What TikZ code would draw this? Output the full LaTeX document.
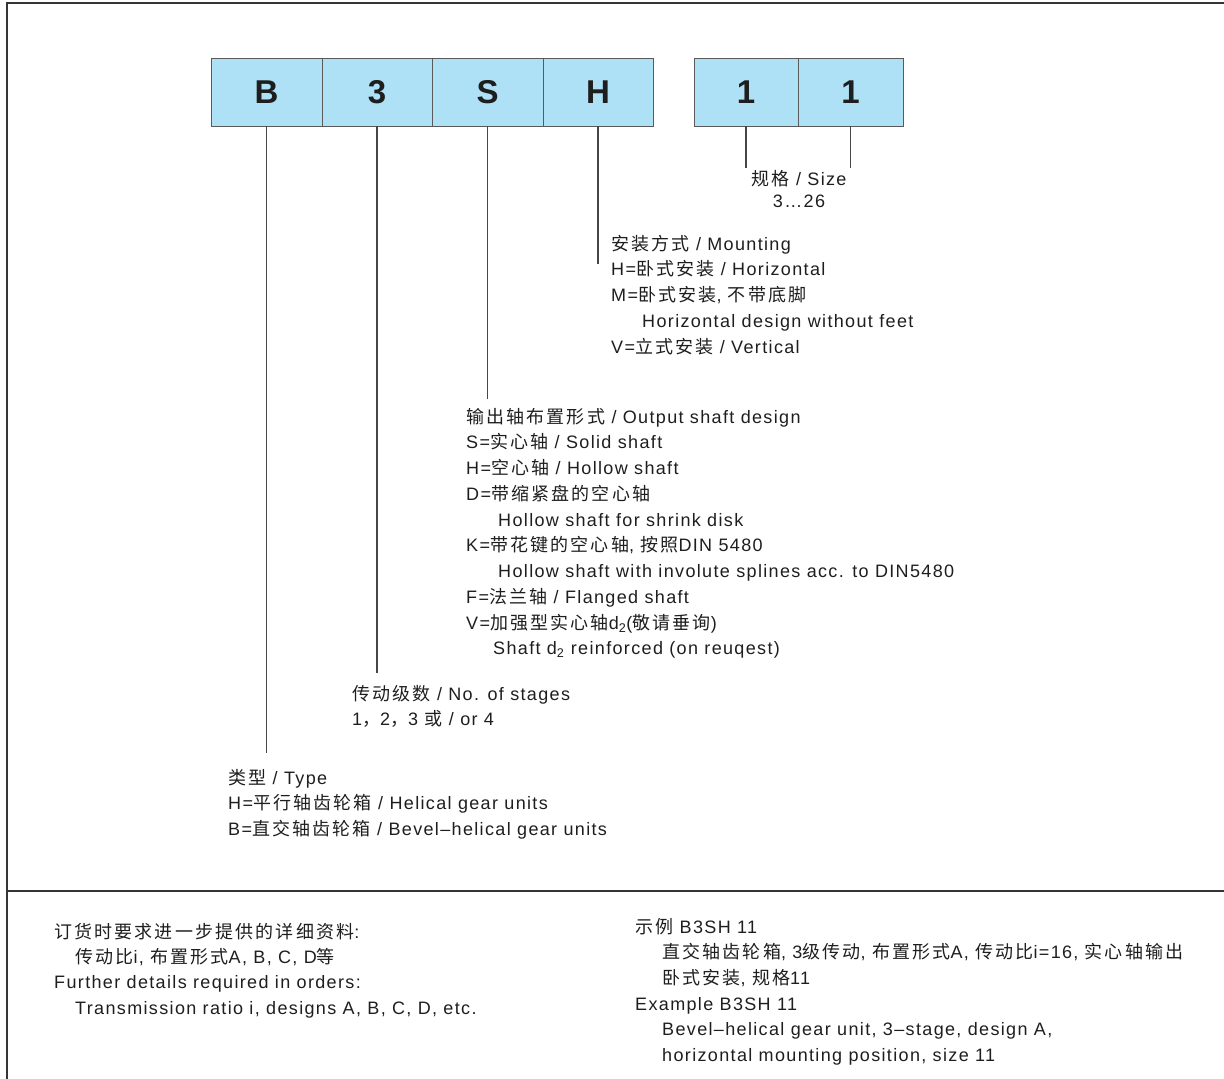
\documentclass[tikz,border=0pt]{standalone}
\usepackage{fontspec}
\setmainfont{Liberation Sans}[LetterSpace=7.5]
\newfontfamily\cjk{Noto Sans CJK SC}[LetterSpace=12]
\newcommand\zh[1]{{\cjk #1}}
\newcommand\topstrut{\rule{0pt}{20pt}}
\definecolor{boxblue}{RGB}{174,224,246}
\definecolor{boxline}{RGB}{90,90,90}
\definecolor{leadgray}{RGB}{70,70,70}
\definecolor{ink}{RGB}{30,30,30}

\begin{document}
\begin{tikzpicture}[x=1pt, y=-1pt,
  frame/.style={draw=ink!90, line width=1.6pt},
  digit/.style={draw=boxline, fill=boxblue, line width=0.9pt, minimum height=68pt,
    inner sep=0pt, text=ink, font=\fontsize{33pt}{33pt}\selectfont\bfseries},
  leader/.style={draw=leadgray, line width=1.5pt},
  block/.style={anchor=north west, inner sep=0pt, align=left, text=ink,
    font=\fontsize{18pt}{25.75pt}\selectfont}]

\useasboundingbox (0,0) rectangle (1224,1079);

% frame
\draw[frame] (7,1079) -- (7,3) -- (1224,3);
\draw[frame] (7,891) -- (1224,891);

% code boxes
\node[digit, minimum width=111pt] (bB) at (266.5,92) {B};
\node[digit, minimum width=110pt] (b3) at (377,92) {3};
\node[digit, minimum width=111pt] (bS) at (487.5,92) {S};
\node[digit, minimum width=110pt] (bH) at (598,92) {H};
\node[digit, minimum width=104pt] (bx) at (746,92) {1};
\node[digit, minimum width=105pt] (by) at (850.5,92) {1};

% legends
\node[block, anchor=north, align=center] (size) at (799,165)
  {\topstrut\zh{规格} / Size\\[-3.75pt]3…26};

\node[block] (mount) at (611,230)
  {\topstrut\zh{安装方式} / Mounting\\
   H=\zh{卧式安装} / Horizontal\\
   M=\zh{卧式安装}, \zh{不带底脚}\\
   \hspace*{31pt}Horizontal design without feet\\
   V=\zh{立式安装} / Vertical};

\node[block] (shaft) at (466,403)
  {\topstrut\zh{输出轴布置形式} / Output shaft design\\
   S=\zh{实心轴} / Solid shaft\\
   H=\zh{空心轴} / Hollow shaft\\
   D=\zh{带缩紧盘的空心轴}\\
   \hspace*{32pt}Hollow shaft for shrink disk\\
   K=\zh{带花键的空心轴}, \zh{按照}DIN 5480\\
   \hspace*{32pt}Hollow shaft with involute splines acc. to DIN5480\\
   F=\zh{法兰轴} / Flanged shaft\\
   V=\zh{加强型实心轴}d\textsubscript{2}(\zh{敬请垂询})\\
   \hspace*{27pt}Shaft d\textsubscript{2} reinforced (on reuqest)};

\node[block] (stage) at (352,680)
  {\topstrut\zh{传动级数} / No. of stages\\
   1\zh{，}2\zh{，}3 \zh{或} / or 4};

\node[block] (type) at (228,764)
  {\topstrut\zh{类型} / Type\\
   H=\zh{平行轴齿轮箱} / Helical gear units\\
   B=\zh{直交轴齿轮箱} / Bevel–helical gear units};

\node[block, font=\fontsize{18pt}{25.3pt}\selectfont] (order) at (54,918)
  {\topstrut\zh{订货时要求进一步提供的详细资料}:\\
   \hspace*{21pt}\zh{传动比}i, \zh{布置形式}A, B, C, D\zh{等}\\
   Further details required in orders:\\
   \hspace*{21pt}Transmission ratio i, designs A, B, C, D, etc.};

\node[block, font=\fontsize{18pt}{25.6pt}\selectfont] (sample) at (635,913)
  {\topstrut\zh{示例} B3SH 11\\
   \hspace*{27pt}\zh{直交轴齿轮箱}, 3\zh{级传动}, \zh{布置形式}A, \zh{传动比}i=16, \zh{实心轴输出}\\
   \hspace*{27pt}\zh{卧式安装}, \zh{规格}11\\
   Example B3SH 11\\
   \hspace*{27pt}Bevel–helical gear unit, 3–stage, design A,\\
   \hspace*{27pt}horizontal mounting position, size 11};

% leader lines
\coordinate (tipB) at (bB.south |- 0,753);
\coordinate (tip3) at (b3.south |- 0,673);
\coordinate (tipS) at (bS.south |- 0,399);
\coordinate (tipH) at (bH.south |- 0,264);
\coordinate (tipx) at (bx.south |- 0,168);
\coordinate (tipy) at (by.south |- 0,168);

\draw[leader] (bB.south) -- (tipB);
\draw[leader] (b3.south) -- (tip3);
\draw[leader] (bS.south) -- (tipS);
\draw[leader] (bH.south) -- (tipH);
\draw[leader] (bx.south) -- (tipx);
\draw[leader] (by.south) -- (tipy);

\end{tikzpicture}
\end{document}
